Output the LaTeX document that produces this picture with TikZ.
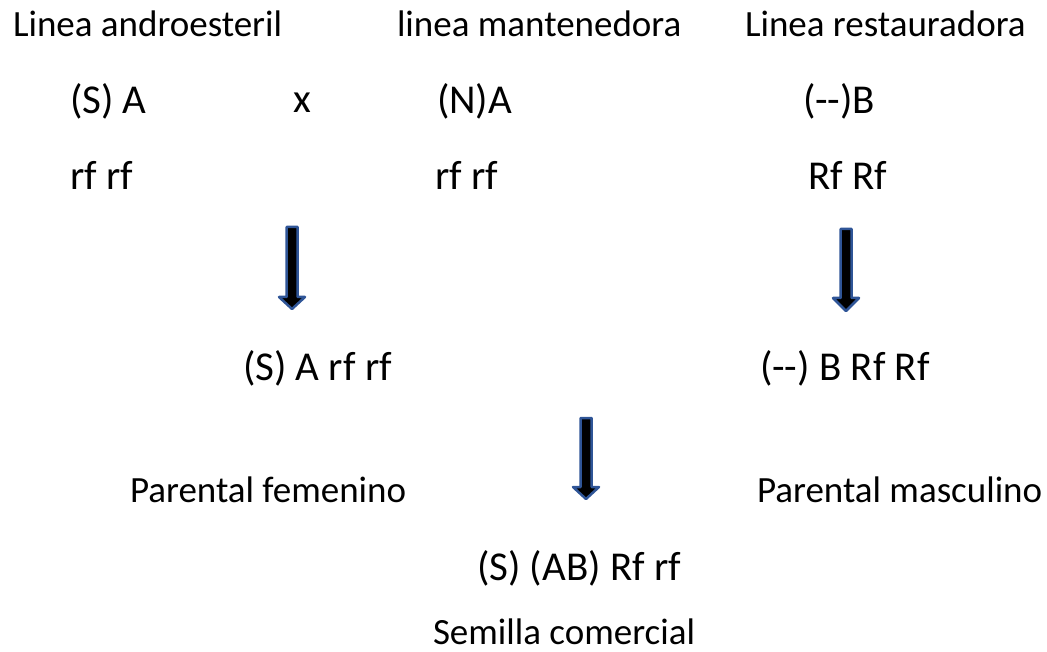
\documentclass[tikz,border=0pt]{standalone}
\usepackage{fontspec}
\setmainfont{Carlito}[Ligatures=NoCommon]
\definecolor{arrowedge}{RGB}{47,85,151}
\tikzset{
  lbl/.style={anchor=base west, inner sep=0pt, outer sep=0pt, font=\fontsize{37}{44}\selectfont},
  gen/.style={anchor=base west, inner sep=0pt, outer sep=0pt, font=\fontsize{41}{48}\selectfont},
  blockarrow/.style={fill=black, draw=arrowedge, line width=2.5pt, line join=round}
}
\newcommand\downblock[4]{%
  \draw[blockarrow] (#1-5.5,#2) -- (#1+5.5,#2) -- (#1+5.5,#3) -- (#1+13,#3) -- (#1,#4) -- (#1-13,#3) -- (#1-5.5,#3) -- cycle;}
\begin{document}
\begin{tikzpicture}[x=1pt,y=-1pt]
\useasboundingbox (0,0) rectangle (1047,652);
% header labels
\node[lbl] (l1) at (13,37) {Linea androesteril};
\node[lbl] (l2) at (397,37) {linea mantenedora};
\node[lbl] (l3) at (745,37) {Linea restauradora};
% genotypes row 1
\node[gen] (g1) at (70,114) {(S) A};
\node[gen, anchor=base] (cross) at (302,113) {x};
\node[gen] (g2) at (437,114) {(N)A};
\node[gen] (g3) at (803,114) {({-}{-})B};
% genotypes row 2
\node[gen] (h1) at (70,190) {rf rf};
\node[gen] (h2) at (435,190) {rf rf};
\node[gen] (h3) at (808,190) {Rf Rf};
% arrows
\downblock{292}{227}{297}{309}
\downblock{846}{229}{298}{311}
% parents
\node[gen] (p1) at (243,380) {(S) A rf rf};
\node[gen] (p2) at (760,380) {({-}{-}) B Rf Rf};
\downblock{586}{418}{487}{499}
\node[lbl] (pf) at (130,502) {Parental femenino};
\node[lbl] (pm) at (757,502) {Parental masculino};
% hybrid
\node[gen] (hy) at (477,580) {(S) (AB) Rf rf};
\node[lbl] (sc) at (433,644) {Semilla comercial};
\end{tikzpicture}
\end{document}
